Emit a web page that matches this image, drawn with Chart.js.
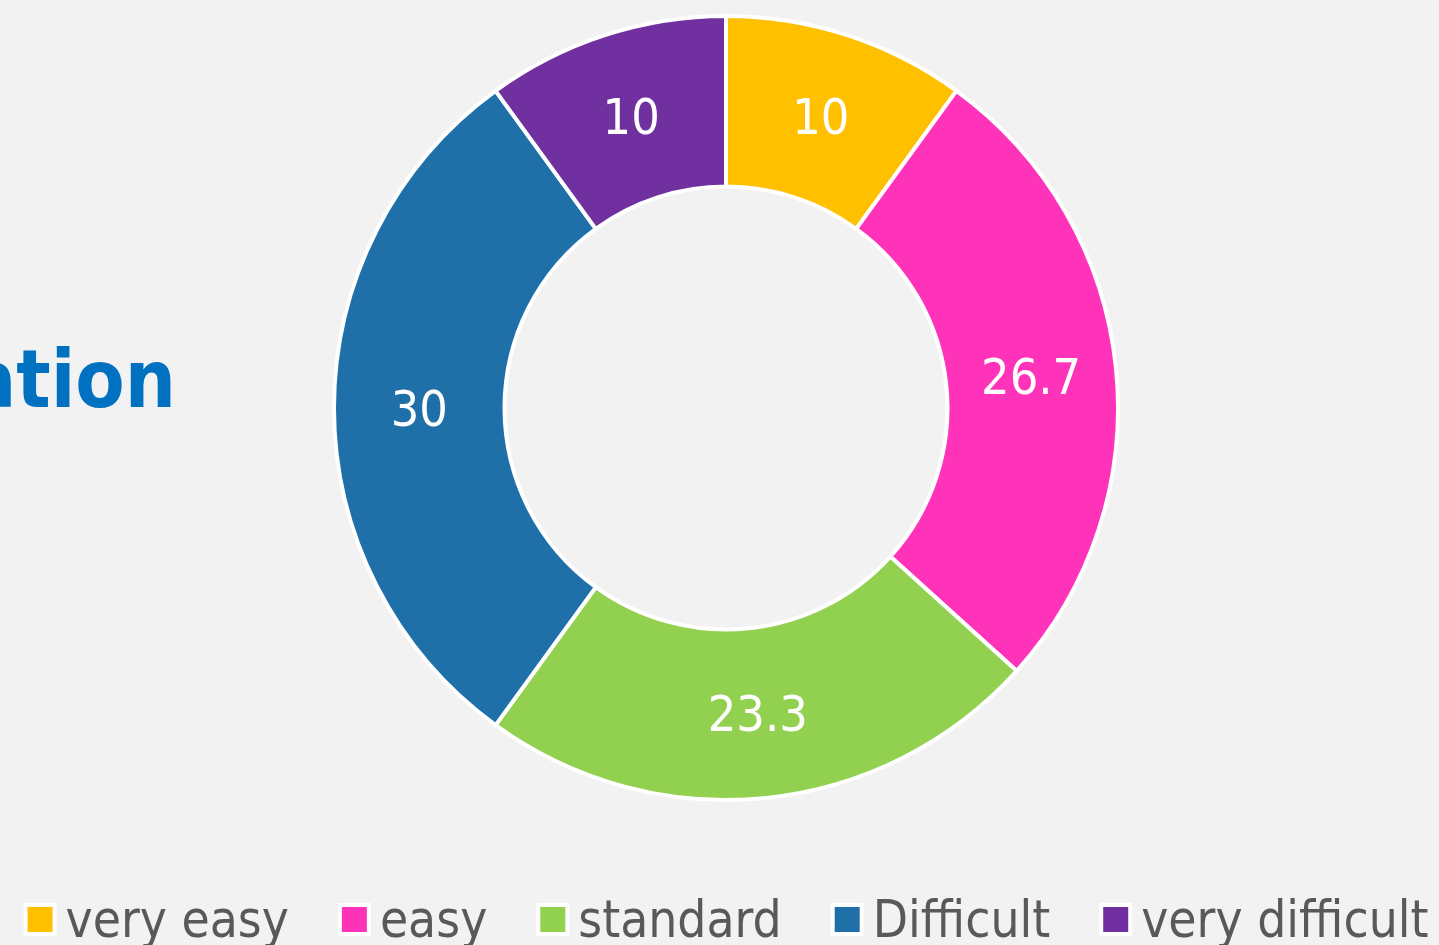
<!DOCTYPE html>
<html><head><meta charset="utf-8">
<script src="https://cdn.jsdelivr.net/npm/chart.js@4/dist/chart.umd.min.js"></script>
<style>html,body{margin:0;padding:0;background:#F2F2F2;overflow:hidden}</style>
</head><body>
<canvas id="c" width="1439" height="945"></canvas>
<script>
const categories = ['very easy', 'easy', 'standard', 'Difficult', 'very difficult'];
const values = [10, 26.7, 23.3, 30, 10];
const colors = ['#FFC000', '#FF33B9', '#92D050', '#1F6FA9', '#7030A0'];
const titleText = 'Evaluation';

const FONT = '"DejaVu Sans Condensed", "DejaVu Sans", sans-serif';

const bgPlugin = {
  id: 'bg',
  beforeDraw(chart) {
    const ctx = chart.ctx;
    ctx.save();
    ctx.fillStyle = '#F2F2F2';
    ctx.fillRect(0, 0, chart.width, chart.height);
    ctx.restore();
  }
};

const titlePlugin = {
  id: 'sideTitle',
  afterDraw(chart) {
    const ctx = chart.ctx;
    ctx.save();
    ctx.font = 'bold 80px ' + FONT;
    ctx.fillStyle = '#0070C0';
    ctx.textAlign = 'right';
    ctx.textBaseline = 'alphabetic';
    ctx.fillText(titleText, 176, 407);
    ctx.restore();
  }
};

const labelPlugin = {
  id: 'valueLabels',
  afterDatasetsDraw(chart) {
    const ctx = chart.ctx;
    const meta = chart.getDatasetMeta(0);
    ctx.save();
    ctx.font = '50px ' + FONT;
    ctx.fillStyle = '#FFFFFF';
    ctx.textAlign = 'center';
    ctx.textBaseline = 'middle';
    meta.data.forEach((arc, i) => {
      const p = arc.getCenterPoint();
      ctx.fillText(String(chart.data.datasets[0].data[i]), p.x, p.y + 5);
    });
    ctx.restore();
  }
};

const legendPlugin = {
  id: 'customLegend',
  afterDraw(chart) {
    const ctx = chart.ctx;
    const ds = chart.data.datasets[0];
    const labels = chart.data.labels;
    ctx.save();
    ctx.font = '51px ' + FONT;
    const box = 29, lw = 4, boxGap = 11, itemGap = 47;
    const widths = labels.map(l => ctx.measureText(l).width);
    let total = 0;
    widths.forEach((w, i) => { total += box + lw + boxGap + w + (i < widths.length - 1 ? itemGap : 0); });
    let x = 727 - total / 2;
    const boxTop = 905, baseline = 937;
    labels.forEach((l, i) => {
      const bx = x + lw / 2;
      ctx.fillStyle = ds.backgroundColor[i];
      ctx.fillRect(bx, boxTop, box, box);
      ctx.strokeStyle = '#FFFFFF';
      ctx.lineWidth = lw;
      ctx.strokeRect(bx, boxTop, box, box);
      const tx = x + box + lw + boxGap - 2;
      ctx.fillStyle = '#595959';
      ctx.textAlign = 'left';
      ctx.textBaseline = 'alphabetic';
      ctx.fillText(l, tx, baseline);
      x += box + lw + boxGap + widths[i] + itemGap;
    });
    ctx.restore();
  }
};

new Chart(document.getElementById('c'), {
  type: 'doughnut',
  data: {
    labels: categories,
    datasets: [{
      data: values,
      backgroundColor: colors,
      borderColor: '#FFFFFF',
      borderWidth: 4
    }]
  },
  options: {
    responsive: false,
    animation: false,
    devicePixelRatio: 1,
    cutout: '56.5%',
    layout: { padding: { top: 14, bottom: 143, left: 13, right: 0 } },
    plugins: {
      legend: { display: false },
      tooltip: { enabled: false },
      title: { display: false }
    }
  },
  plugins: [bgPlugin, labelPlugin, titlePlugin, legendPlugin]
});
</script>
</body></html>
